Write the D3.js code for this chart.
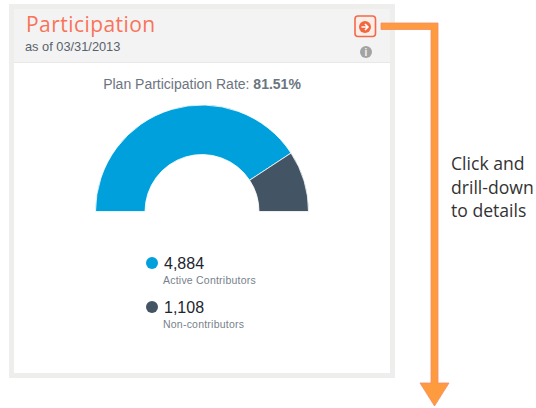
<!DOCTYPE html>
<html>
<head>
<meta charset="utf-8">
<script src="https://cdn.jsdelivr.net/npm/d3@7"></script>
<style>
  html, body { margin: 0; padding: 0; background: #fff; }
  svg { display: block; }
  text { font-family: "Liberation Sans", Arial, sans-serif; }
</style>
</head>
<body>
<svg id="chart" width="536" height="408"></svg>
<script>
// Participation gauge card plus the orange "drill-down" callout on the right.
const categories = ["Active Contributors", "Non-contributors"];
const values = [4884, 1108];
const valueLabels = ["4,884", "1,108"];
const colors = ["#00a0dd", "#435564"];
const rateLabel = "81.51%";
const noteLines = ["Click and", "drill-down", "to details"];

const svg = d3.select("#chart");
const ORANGE = "#ff9b3f", ORANGE_EDGE = "#f58a6a", CORAL = "#f4694a";

// ---- card ----
svg.append("rect").attr("x", 9).attr("y", 4).attr("width", 386).attr("height", 374).attr("fill", "#eeeeec");
svg.append("rect").attr("x", 14).attr("y", 9).attr("width", 376).attr("height", 364).attr("fill", "#fff");
svg.append("rect").attr("x", 14).attr("y", 9).attr("width", 376).attr("height", 53).attr("fill", "#f3f3f3");
svg.append("line").attr("x1", 14).attr("x2", 390).attr("y1", 62.5).attr("y2", 62.5).attr("stroke", "#e8e8e8");

svg.append("text").attr("x", 26).attr("y", 32)
  .style("font-family", "'Open Sans', sans-serif").style("font-size", "21px").style("letter-spacing", "0.45px")
  .attr("fill", "#f9735a").text("Participation");
svg.append("text").attr("x", 25).attr("y", 51)
  .style("font-size", "12.8px").attr("fill", "#59626b").text("as of 03/31/2013");

svg.append("text").attr("x", 202).attr("y", 89).attr("text-anchor", "middle")
  .style("font-size", "14px").attr("fill", "#6b7580")
  .html(`Plan Participation Rate: <tspan font-weight="bold">${rateLabel}</tspan>`);

// ---- gauge ----
const pie = d3.pie().sort(null).startAngle(-Math.PI / 2).endAngle(Math.PI / 2);
const arc = d3.arc().innerRadius(57).outerRadius(106.5);
svg.append("g").attr("transform", "translate(202,211.5)")
  .selectAll("path").data(pie(values)).join("path")
  .attr("d", arc)
  .attr("fill", (d, i) => colors[i])
  .attr("stroke", "#fff").attr("stroke-width", 0.8);

// ---- legend ----
const legendY = d3.scalePoint().domain(categories).range([263, 307]);
const row = svg.selectAll("g.row").data(categories).join("g").attr("class", "row")
  .attr("transform", (d) => `translate(0,${legendY(d)})`);
row.append("circle").attr("cx", 152).attr("r", 6).attr("fill", (d, i) => colors[i]);
row.append("text").attr("x", 164).attr("y", 6).style("font-size", "16px").attr("fill", "#1c2530")
  .text((d, i) => valueLabels[i]);
row.append("text").attr("x", 163).attr("y", 21).style("font-size", "10.5px").style("letter-spacing", "0.22px")
  .attr("fill", "#77818b").text((d) => d);

// ---- header icons ----
svg.append("rect").attr("x", 355).attr("y", 16).attr("width", 20.5).attr("height", 20.5).attr("rx", 3)
  .attr("fill", "#fbeee9").attr("stroke", CORAL).attr("stroke-width", 1.6);
svg.append("circle").attr("cx", 365).attr("cy", 27).attr("r", 6).attr("fill", "#f2683c");
svg.append("path").attr("d", "M361.5 27H367M365 24l3 3-3 3").attr("fill", "none")
  .attr("stroke", "#fff").attr("stroke-width", 1.6);
svg.append("circle").attr("cx", 366).attr("cy", 52).attr("r", 6).attr("fill", "#a3a3a3");
svg.append("text").attr("x", 366).attr("y", 56).attr("text-anchor", "middle")
  .style("font-size", "10px").style("font-weight", "bold").attr("fill", "#f3f3f3").text("i");

// ---- callout arrow ----
svg.append("path")
  .attr("d", "M381 23H438V383H449L434.5 406L420 383H431V29.5H381Z")
  .attr("fill", ORANGE).attr("stroke", ORANGE_EDGE).attr("stroke-width", 0.8);

svg.append("g").selectAll("text").data(noteLines).join("text")
  .attr("x", 451).attr("y", (d, i) => 170 + i * 23.5)
  .style("font-family", "'Open Sans', sans-serif").style("font-size", "17.6px").attr("fill", "#333")
  .text((d) => d);
</script>
</body>
</html>
